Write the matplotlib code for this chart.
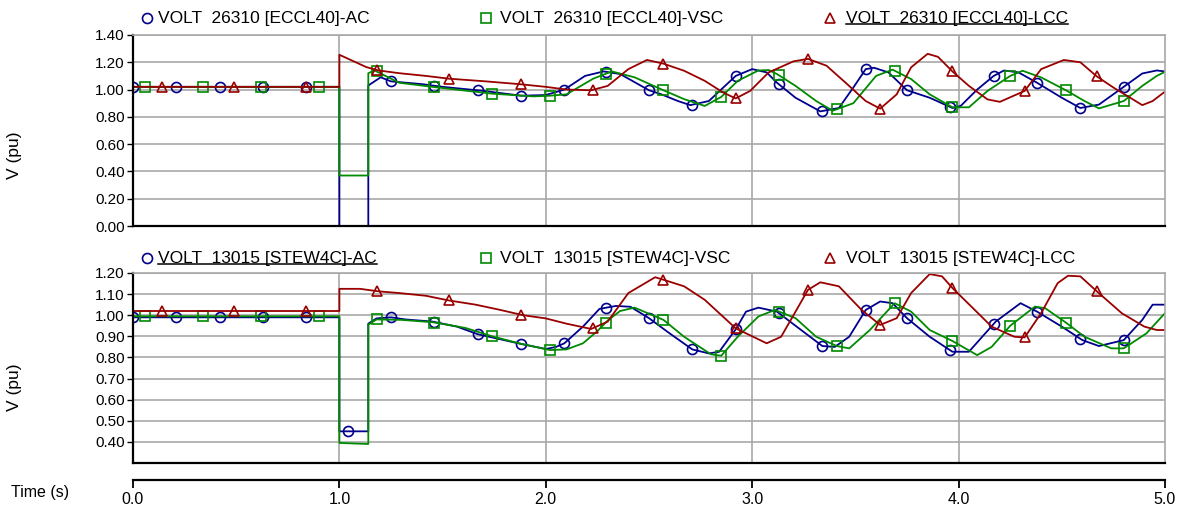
import matplotlib
matplotlib.use("Agg")
import matplotlib.pyplot as plt
from matplotlib.lines import Line2D
import numpy as np

plt.rcParams['font.family'] = ['Liberation Sans', 'DejaVu Sans']

# ---- data ----
# top panel: bus 26310 [ECCL40]
top_ac_t = [0, 1.0, 1.0, 1.14, 1.14, 1.2, 1.25, 1.4, 1.5, 1.7, 1.88, 2.0, 2.09, 2.19, 2.28, 2.36, 2.5, 2.56, 2.64,
            2.70, 2.79, 2.92, 3.0, 3.07, 3.12, 3.21, 3.33, 3.42, 3.49, 3.55, 3.59, 3.66, 3.75, 3.86, 3.97, 4.01,
            4.09, 4.17, 4.22, 4.29, 4.38, 4.50, 4.59, 4.68, 4.80, 4.89, 4.96, 5.0]
top_ac_v = [1.02, 1.02, 0.0, 0.0, 1.03, 1.09, 1.06, 1.04, 1.02, 0.99, 0.955, 0.96, 1.0, 1.10, 1.133, 1.114, 0.995,
            0.965, 0.916, 0.886, 0.916, 1.10, 1.15, 1.126, 1.05, 0.94, 0.84, 0.865, 1.015, 1.15, 1.16, 1.126, 0.995,
            0.94, 0.865, 0.88, 1.0, 1.10, 1.14, 1.126, 1.05, 0.94, 0.865, 0.89, 1.02, 1.118, 1.14, 1.133]

top_vsc_t = [0, 1.0, 1.0, 1.14, 1.14, 1.17, 1.29, 1.45, 1.74, 1.94, 2.02, 2.1, 2.23, 2.32, 2.43, 2.57, 2.67, 2.77,
             2.85, 2.93, 3.03, 3.08, 3.12, 3.21, 3.31, 3.39, 3.49, 3.60, 3.68, 3.77, 3.86, 3.97, 4.05, 4.14, 4.25,
             4.31, 4.40, 4.52, 4.61, 4.68, 4.80, 4.89, 4.96, 5.0]
top_vsc_v = [1.02, 1.02, 0.37, 0.37, 1.12, 1.14, 1.05, 1.02, 0.97, 0.95, 0.955, 0.965, 1.08, 1.133, 1.09, 0.995,
             0.93, 0.88, 0.946, 1.064, 1.14, 1.143, 1.114, 1.027, 0.916, 0.845, 0.90, 1.10, 1.146, 1.077, 0.965,
             0.87, 0.87, 0.99, 1.10, 1.138, 1.089, 0.995, 0.916, 0.862, 0.916, 1.027, 1.10, 1.13]

top_lcc_t = [0, 1.0, 1.0, 1.13, 1.19, 1.29, 1.42, 1.53, 1.71, 1.87, 2.0, 2.1, 2.22, 2.30, 2.40, 2.49, 2.57, 2.67,
             2.77, 2.86, 2.92, 2.99, 3.08, 3.20, 3.27, 3.36, 3.46, 3.55, 3.62, 3.70, 3.77, 3.85, 3.90, 3.97, 4.05,
             4.14, 4.20, 4.32, 4.40, 4.51, 4.59, 4.67, 4.75, 4.89, 4.94, 5.0]
top_lcc_v = [1.02, 1.02, 1.255, 1.165, 1.14, 1.12, 1.10, 1.08, 1.06, 1.04, 1.02, 1.0, 0.995, 1.027, 1.15, 1.217,
             1.19, 1.138, 1.064, 0.978, 0.935, 0.99, 1.126, 1.207, 1.225, 1.175, 1.04, 0.916, 0.86, 0.965, 1.163,
             1.262, 1.24, 1.133, 1.027, 0.928, 0.91, 0.99, 1.15, 1.217, 1.20, 1.096, 1.015, 0.886, 0.916, 0.985]

# bottom panel: bus 13015 [STEW4C]
bot_ac_t = [0, 1.0, 1.0, 1.14, 1.14, 1.18, 1.25, 1.32, 1.45, 1.57, 1.67, 1.78, 1.88, 2.0, 2.05, 2.09, 2.18, 2.26,
            2.34, 2.41, 2.50, 2.60, 2.71, 2.79, 2.84, 2.92, 2.97, 3.03, 3.12, 3.21, 3.34, 3.40, 3.47, 3.55, 3.62,
            3.68, 3.75, 3.86, 3.97, 4.05, 4.18, 4.30, 4.38, 4.50, 4.60, 4.68, 4.80, 4.89, 4.94, 5.0]
bot_ac_v = [0.99, 0.99, 0.45, 0.45, 0.96, 0.985, 0.99, 0.98, 0.97, 0.946, 0.91, 0.886, 0.864, 0.84, 0.85, 0.867,
            0.946, 1.03, 1.044, 1.04, 0.986, 0.914, 0.838, 0.819, 0.827, 0.933, 1.017, 1.036, 1.017, 0.95, 0.854,
            0.85, 0.898, 1.025, 1.065, 1.057, 0.986, 0.898, 0.827, 0.827, 0.97, 1.057, 1.017, 0.946, 0.882, 0.854,
            0.882, 0.978, 1.05, 1.05]

bot_vsc_t = [0, 1.0, 1.0, 1.14, 1.14, 1.18, 1.30, 1.45, 1.61, 1.74, 1.87, 2.02, 2.10, 2.18, 2.25, 2.30, 2.36, 2.43,
             2.57, 2.67, 2.80, 2.85, 2.93, 3.03, 3.11, 3.21, 3.31, 3.41, 3.47, 3.57, 3.69, 3.77, 3.86, 3.97, 4.09,
             4.16, 4.25, 4.37, 4.42, 4.52, 4.61, 4.74, 4.80, 4.91, 5.0]
bot_vsc_v = [0.995, 0.995, 0.395, 0.39, 0.955, 0.98, 0.978, 0.967, 0.94, 0.90, 0.867, 0.835, 0.838, 0.867, 0.925,
             0.975, 1.02, 1.036, 0.978, 0.898, 0.815, 0.808, 0.898, 0.994, 1.025, 0.986, 0.898, 0.854, 0.843, 0.93,
             1.057, 1.017, 0.93, 0.878, 0.811, 0.85, 0.95, 1.041, 1.033, 0.965, 0.898, 0.843, 0.843, 0.914, 1.01]

bot_lcc_t = [0, 1.0, 1.0, 1.10, 1.19, 1.29, 1.42, 1.53, 1.66, 1.78, 1.89, 2.0, 2.1, 2.22, 2.30, 2.40, 2.53, 2.57,
             2.67, 2.77, 2.92, 3.07, 3.14, 3.21, 3.27, 3.33, 3.42, 3.53, 3.62, 3.70, 3.77, 3.86, 3.92, 3.97, 4.07,
             4.16, 4.27, 4.32, 4.40, 4.48, 4.53, 4.59, 4.67, 4.79, 4.90, 4.96, 5.0]
bot_lcc_v = [1.02, 1.02, 1.125, 1.125, 1.113, 1.105, 1.092, 1.07, 1.05, 1.025, 1.0, 0.985, 0.96, 0.935, 0.97, 1.105,
             1.18, 1.168, 1.137, 1.073, 0.938, 0.867, 0.898, 1.017, 1.12, 1.156, 1.137, 1.025, 0.954, 0.986, 1.105,
             1.195, 1.184, 1.129, 1.033, 0.946, 0.898, 0.895, 1.01, 1.152, 1.187, 1.184, 1.113, 1.01, 0.946, 0.93,
             0.93]

# times where the plotting tool put its symbols
ac_mark_t = [0.0, 0.21, 0.42, 0.63, 0.84, 1.04, 1.25, 1.46, 1.67, 1.88, 2.09, 2.29, 2.50, 2.71, 2.92, 3.13, 3.34,
             3.55, 3.75, 3.96, 4.17, 4.38, 4.59, 4.80]
vsc_mark_t = [0.06, 0.34, 0.62, 0.90, 1.18, 1.46, 1.74, 2.02, 2.29, 2.57, 2.85, 3.13, 3.41, 3.69, 3.97, 4.25, 4.52,
              4.80]
lcc_mark_t = [0.14, 0.49, 0.84, 1.18, 1.53, 1.88, 2.23, 2.57, 2.92, 3.27, 3.62, 3.97, 4.32, 4.67]

top_labels = ['VOLT  26310 [ECCL40]-AC', 'VOLT  26310 [ECCL40]-VSC', 'VOLT  26310 [ECCL40]-LCC']
bot_labels = ['VOLT  13015 [STEW4C]-AC', 'VOLT  13015 [STEW4C]-VSC', 'VOLT  13015 [STEW4C]-LCC']

colors = ['#00008c', '#008a00', '#990000']
markers = ['o', 's', '^']
MS = 7.2

W, H = 1181, 508
fig = plt.figure(figsize=(W / 100, H / 100), dpi=100)

ax1 = fig.add_axes([133 / W, 1 - 226 / H, (1165 - 133) / W, (226 - 35) / H])
ax2 = fig.add_axes([133 / W, 1 - 463 / H, (1165 - 133) / W, (463 - 273) / H])
axt = fig.add_axes([133 / W, 1 - 480 / H, (1165 - 133) / W, 0.0001])


def style(ax, ylim, yticks):
    ax.set_xlim(0, 5)
    ax.set_ylim(*ylim)
    ax.set_yticks(yticks)
    ax.set_yticklabels([f'{v:.2f}' for v in yticks])
    ax.set_xticks([1, 2, 3, 4])
    ax.tick_params(axis='x', length=0, labelbottom=False)
    ax.tick_params(axis='y', direction='out', length=4, width=1, labelsize=11, pad=2)
    ax.grid(True, color='#a8a8a8', lw=1.2)
    ax.set_axisbelow(True)
    ax.spines['left'].set_color('black')
    ax.spines['left'].set_linewidth(1.6)
    ax.spines['bottom'].set_color('black')
    ax.spines['bottom'].set_linewidth(1.6)
    for s in ['top', 'right']:
        ax.spines[s].set_color('#a8a8a8')
        ax.spines[s].set_linewidth(1.2)
    ax.set_ylabel('V (pu)', fontsize=12.5, labelpad=38)


def draw(ax, series, ybottom):
    mark_ts = [ac_mark_t, vsc_mark_t, lcc_mark_t]
    for (t, v), c, m, mt in zip(series, colors, markers, mark_ts):
        ax.plot(t, v, color=c, lw=1.3)
        mv = np.interp(mt, t, v)
        keep = mv > ybottom + 0.01  # symbols sitting on the frame are not shown
        ax.plot(np.array(mt)[keep], mv[keep], ls='none', marker=m, ms=MS, mfc='none', mec=c, mew=1.2)


draw(ax1, [(top_ac_t, top_ac_v), (top_vsc_t, top_vsc_v), (top_lcc_t, top_lcc_v)], 0.0)
draw(ax2, [(bot_ac_t, bot_ac_v), (bot_vsc_t, bot_vsc_v), (bot_lcc_t, bot_lcc_v)], 0.3)

style(ax1, (0, 1.4), [0.0, 0.2, 0.4, 0.6, 0.8, 1.0, 1.2, 1.4])
style(ax2, (0.3, 1.2), [0.4, 0.5, 0.6, 0.7, 0.8, 0.9, 1.0, 1.1, 1.2])
ax1.yaxis.set_label_coords(-0.108, 0.37)
ax2.yaxis.set_label_coords(-0.108, 0.4)

# separate time axis below the panels
axt.set_xlim(0, 5)
axt.set_yticks([])
axt.set_xticks([0, 1, 2, 3, 4, 5])
axt.set_xticklabels(['0.0', '1.0', '2.0', '3.0', '4.0', '5.0'])
axt.tick_params(axis='x', direction='out', length=6, width=1.3, labelsize=11.5, pad=3)
for s in ['top', 'left', 'right']:
    axt.spines[s].set_visible(False)
axt.spines['bottom'].set_linewidth(1.6)
axt.patch.set_visible(False)
fig.text(40 / W, 1 - 493 / H, 'Time (s)', fontsize=11.5, ha='center', va='center')

# legend rows drawn by hand
leg_x_mark = [147, 486, 830]
leg_x_text = [158, 500, 846]
texts = {}
for row_y, labels in [(18, top_labels), (258, bot_labels)]:
    for i, lab in enumerate(labels):
        fy = 1 - row_y / H
        fig.add_artist(Line2D([leg_x_mark[i] / W], [fy], marker=markers[i], ms=MS, mfc='none',
                              mec=colors[i], mew=1.2, ls='none', transform=fig.transFigure))
        texts[lab] = fig.text(leg_x_text[i] / W, fy, lab, fontsize=12.5, ha='left', va='center')

# underlined entries
fig.canvas.draw()
for lab in [top_labels[2], bot_labels[0]]:
    bb = texts[lab].get_window_extent().transformed(fig.transFigure.inverted())
    fig.add_artist(Line2D([bb.x0, bb.x1], [bb.y0 + 0.002, bb.y0 + 0.002], color='black', lw=1.1,
                          transform=fig.transFigure))

fig.savefig('out.png', dpi=100)
